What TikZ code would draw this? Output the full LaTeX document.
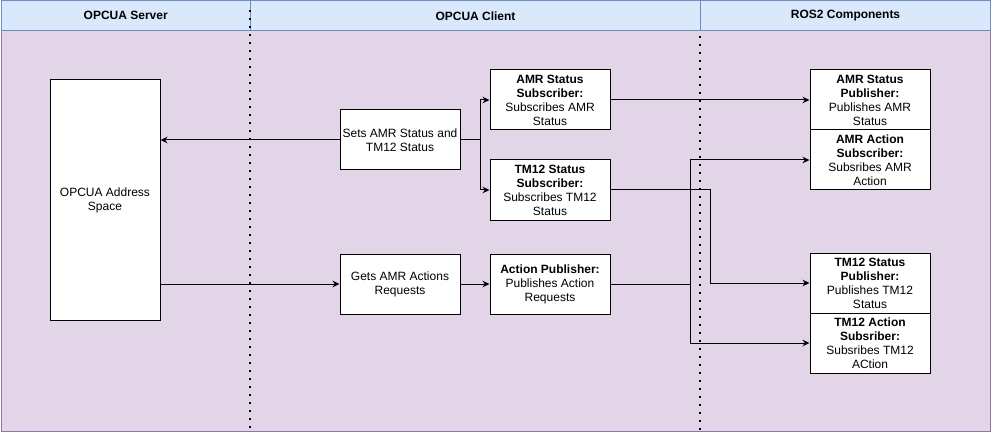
\documentclass[tikz,border=0pt]{standalone}
\usepackage{fontspec}
\setmainfont{Liberation Sans}
\usetikzlibrary{arrows.meta}
\definecolor{hdrfill}{HTML}{DAE8FC}
\definecolor{hdrline}{HTML}{6C8EBF}
\definecolor{bodyfill}{HTML}{E1D5E7}
\definecolor{bodyline}{HTML}{9673A6}
\begin{document}
\begin{tikzpicture}[x=1pt,y=-1pt,
  font=\fontsize{12}{14}\selectfont,
  box/.style={draw=black, fill=white, line width=1pt, minimum width=120pt,
    minimum height=60pt, inner sep=0pt, align=center},
  hdr/.style={draw=hdrline, fill=hdrfill, line width=1pt, minimum height=29.5pt,
    inner sep=0pt, anchor=north west, font=\fontsize{12}{14}\selectfont\bfseries},
  conn/.style={line width=1pt, -{Stealth[length=7pt,width=6.5pt]}},
  sepline/.style={line width=1.6pt, dash pattern=on 1.6pt off 6.4pt}]
\useasboundingbox (0,0) rectangle (991,433);
% pool body and headers
\node[draw=bodyline, fill=bodyfill, line width=1pt, minimum width=989pt,
  minimum height=401pt, inner sep=0pt, anchor=north west] (body) at (0.5,30) {};
\node[hdr, minimum width=249.5pt] (h1) at (0.5,0.5) {OPCUA Server};
\node[hdr, minimum width=450pt] (h2) at (250,0.5) {OPCUA Client};
\node[hdr, minimum width=290pt] (h3) at (700,0.5) {ROS2 Components};
% separators
\draw[sepline] (250,10) -- (250,433);
\draw[sepline] (700,36) -- (700,433);
% nodes
\node[box, minimum width=110pt, minimum height=240pt] (addr) at (105,200) {OPCUA Address\\Space};
\node[box] (sets) at (400,140) {Sets AMR Status and\\TM12 Status};
\node[box] (gets) at (400,284) {Gets AMR Actions\\Requests};
\node[box] (amrsub) at (550,100) {\textbf{AMR Status}\\\textbf{Subscriber:}\\Subscribes AMR\\Status};
\node[box] (tmsub) at (550,190) {\textbf{TM12 Status}\\\textbf{Subscriber:}\\Subscribes TM12\\Status};
\node[box] (actpub) at (550,284) {\textbf{Action Publisher:}\\Publishes Action\\Requests};
\node[box] (amrpub) at (870,100) {\textbf{AMR Status}\\\textbf{Publisher:}\\Publishes AMR\\Status};
\node[box] (amract) at (870,160) {\textbf{AMR Action}\\\textbf{Subscriber:}\\Subsribes AMR\\Action};
\node[box] (tmpub) at (870,283) {\textbf{TM12 Status}\\\textbf{Publisher:}\\Publishes TM12\\Status};
\node[box] (tmact) at (870,343) {\textbf{TM12 Action}\\\textbf{Subsriber:}\\Subsribes TM12\\ACtion};
% connectors
\draw[conn] (sets.west) -- (addr.east |- sets.west);
\draw[conn] (sets.east) -- ++(20,0) |- (amrsub.west);
\draw[conn] (sets.east) -- ++(20,0) |- (tmsub.west);
\draw[conn] (addr.east |- gets.west) -- (gets.west);
\draw[conn] (gets.east) -- (actpub.west);
\draw[conn] (amrsub.east) -- (amrpub.west);
\draw[conn] (tmsub.east) -- ++(100,0) |- (tmpub.west);
\draw[conn] (actpub.east) -- ++(80,0) |- (amract.west);
\draw[conn] (actpub.east) -- ++(80,0) |- (tmact.west);
\end{tikzpicture}
\end{document}
